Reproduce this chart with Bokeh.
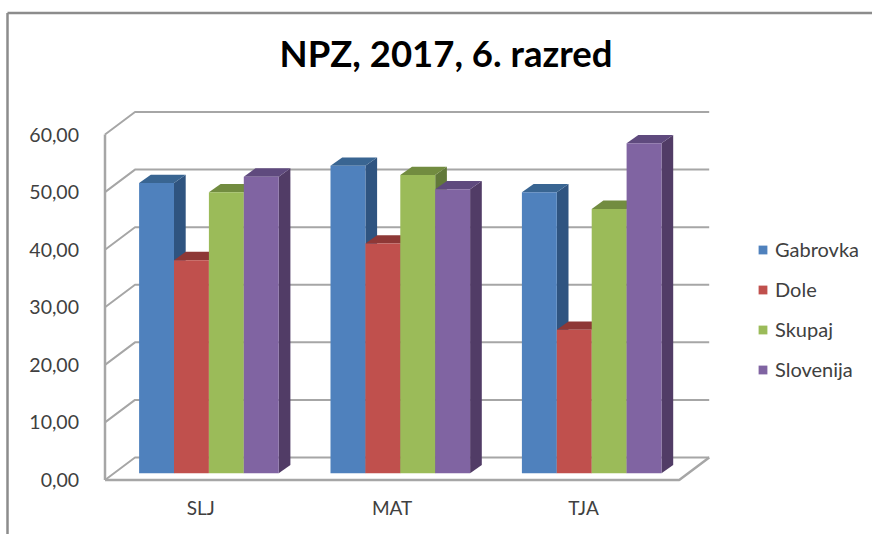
from bokeh.embed import file_html
from bokeh.resources import INLINE
from bokeh.plotting import figure
from bokeh.models import Range1d, FixedTicker, Legend, LegendItem, Label

title = "NPZ, 2017, 6. razred"
categories = ["SLJ", "MAT", "TJA"]
y_ticks = [0, 10, 20, 30, 40, 50, 60]
y_labels = ["0,00", "10,00", "20,00", "30,00", "40,00", "50,00", "60,00"]
gabrovka = [50.4, 53.4, 48.8]
dole = [37.0, 39.9, 24.9]
skupaj = [48.8, 51.8, 45.9]
slovenija = [51.5, 49.3, 57.3]
series_names = ["Gabrovka", "Dole", "Skupaj", "Slovenija"]
front_colors = ["#4f81bd", "#c0504d", "#9bbb59", "#8064a2"]
top_colors = ["#396592", "#8e3836", "#728c40", "#5f4a7e"]
side_colors = ["#2f5480", "#7d2f2d", "#62793a", "#513c66"]

# pixel scale of the chart's front plane, page position of the canvas
PX_X = 191.4
PX_Y = 5.758
CANVAS_W, CANVAS_H = 872, 534
LEFT, TOP = 0, 0
ZERO_X, ZERO_Y = 104.5, 479.5


def to_x(px):
    return (px - ZERO_X) / PX_X


def to_y(px):
    return (ZERO_Y - px) / PX_Y


WALL_DX, WALL_DY = 30 / PX_X, 22.5 / PX_Y     # depth of the floor
BASE_DX, BASE_DY = 8.2 / PX_X, 6.8 / PX_Y     # front plane of the bars
BAR_DX, BAR_DY = 11.7 / PX_X, 8.3 / PX_Y      # depth of the bars
BAR_W = 34.9 / PX_X

p = figure(
    width=CANVAS_W, height=CANVAS_H, output_backend="svg", toolbar_location=None,
    x_range=Range1d(to_x(LEFT), to_x(LEFT + CANVAS_W)),
    y_range=Range1d(to_y(TOP + CANVAS_H), to_y(TOP)),
    min_border=0, outline_line_color=None,
)
p.grid.visible = False

# picture frame of the screenshot
p.line([to_x(7), to_x(7)], [to_y(TOP + CANVAS_H), to_y(12.5)], line_color="#8c8c8c", line_width=2.5)
p.line([to_x(7), to_x(LEFT + CANVAS_W)], [to_y(12.5), to_y(12.5)], line_color="#8c8c8c", line_width=2.5)

p.add_layout(Label(x=to_x(445.5), y=to_y(52.5), text=title, text_font="Lato", text_font_size="36.5px",
                   text_font_style="bold", text_color="#000000", text_align="center",
                   text_baseline="middle"))

LINE = "#a6a6a6"
n = len(categories)
xs, ys = [], []
for t in y_ticks:
    xs.append([0, WALL_DX, n + WALL_DX])
    ys.append([t, t + WALL_DY, t + WALL_DY])
p.multi_line(xs, ys, line_color=LINE, line_width=2)
p.line([0, 0], [y_ticks[0], y_ticks[-1]], line_color=LINE, line_width=2.5)
p.line([0, n, n + WALL_DX], [0, 0, WALL_DY], line_color=LINE, line_width=2.5)

series = [gabrovka, dole, skupaj, slovenija]
legend_items = []
for s, vals in enumerate(series):
    x0 = [i + 0.5 + BASE_DX + (s - 2) * BAR_W for i in range(n)]
    tops = [v + BASE_DY for v in vals]
    side_x = [[a + BAR_W, a + BAR_W + BAR_DX, a + BAR_W + BAR_DX, a + BAR_W] for a in x0]
    side_y = [[BASE_DY, BASE_DY + BAR_DY, t + BAR_DY, t] for t in tops]
    top_x = [[a, a + BAR_DX, a + BAR_W + BAR_DX, a + BAR_W] for a in x0]
    top_y = [[t, t + BAR_DY, t + BAR_DY, t] for t in tops]
    p.patches(side_x, side_y, fill_color=side_colors[s], line_color=None)
    p.patches(top_x, top_y, fill_color=top_colors[s], line_color=None)
    r = p.quad(left=x0, right=[a + BAR_W for a in x0], bottom=BASE_DY, top=tops,
               fill_color=front_colors[s], line_color=None)
    legend_items.append(LegendItem(label=series_names[s], renderers=[r]))

xa = p.xaxis[0]
xa.fixed_location = 0
xa.ticker = FixedTicker(ticks=[i + 0.5 for i in range(n)])
xa.major_label_overrides = {i + 0.5: c for i, c in enumerate(categories)}
xa.axis_line_color = None
xa.major_tick_line_color = None
xa.minor_tick_line_color = None
xa.major_label_standoff = 10
xa.major_label_text_font = "Lato"
xa.major_label_text_font_size = "19px"
xa.major_label_text_color = "#404040"

ya = p.yaxis[0]
ya.fixed_location = 0
ya.ticker = FixedTicker(ticks=y_ticks)
ya.major_label_overrides = dict(zip(y_ticks, y_labels))
ya.axis_line_color = None
ya.major_tick_line_color = None
ya.minor_tick_line_color = None
ya.major_label_standoff = 20
ya.major_label_text_font = "Lato"
ya.major_label_text_font_size = "19.5px"
ya.major_label_text_color = "#404040"

legend = Legend(items=legend_items, location=(757 - LEFT, TOP + CANVAS_H - 381), orientation="vertical",
                border_line_color=None, background_fill_alpha=0,
                label_text_font="Lato", label_text_font_size="20px",
                label_text_color="#404040", glyph_width=11, glyph_height=11,
                label_standoff=7, spacing=16, padding=0, margin=0)
p.add_layout(legend, "center")

open("out.html", "w").write(file_html(p, INLINE))
